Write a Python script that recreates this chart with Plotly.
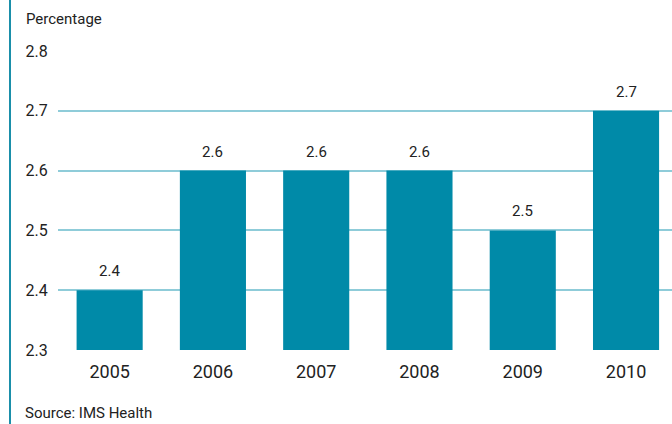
import plotly.graph_objects as go

years = ["2005", "2006", "2007", "2008", "2009", "2010"]
values = [2.4, 2.6, 2.6, 2.6, 2.5, 2.7]
labels = ["2.4", "2.6", "2.6", "2.6", "2.5", "2.7"]
yticks = [2.3, 2.4, 2.5, 2.6, 2.7, 2.8]

FONT = "Roboto, sans-serif"
BAR = "#008AA8"
GRID = "#8FCCD9"
TXT = "#222222"

fig = go.Figure(go.Bar(
    x=list(range(len(years))), y=values, width=0.64,
    marker=dict(color=BAR, line=dict(width=0)),
    hoverinfo="x+y",
))

annotations = [
    dict(x=i, y=v, xref="x", yref="y", text=t, showarrow=False,
         xanchor="center", yanchor="bottom", yshift=8,
         font=dict(family=FONT, size=15, color=TXT))
    for i, (v, t) in enumerate(zip(values, labels))
]
annotations += [
    dict(text="Percentage", xref="paper", yref="paper",
         x=(24 - 58) / 614, y=1 + (51 - 19) / 299, xanchor="left", yanchor="middle",
         showarrow=False, font=dict(family=FONT, size=15, color=TXT)),
    dict(text="Source: IMS Health", xref="paper", yref="paper",
         x=(23 - 58) / 614, y=-(413 - 350) / 299, xanchor="left", yanchor="middle",
         showarrow=False, font=dict(family=FONT, size=15, color=TXT)),
]

fig.update_layout(
    width=672, height=424,
    margin=dict(l=58, r=0, t=51, b=74),
    paper_bgcolor="white", plot_bgcolor="white",
    showlegend=False,
    font=dict(family=FONT, color=TXT),
    xaxis=dict(
        range=[-0.5, 5.445], tickmode="array",
        tickvals=list(range(len(years))), ticktext=years,
        showgrid=False, zeroline=False, showline=False,
        ticks="outside", ticklen=5, tickcolor="rgba(0,0,0,0)",
        tickfont=dict(family=FONT, size=18, color=TXT),
    ),
    yaxis=dict(
        range=[2.3, 2.8], tickmode="array", tickvals=yticks,
        ticktext=[f"{v:.1f}" for v in yticks],
        showgrid=True, gridcolor=GRID, gridwidth=2,
        zeroline=False, showline=False,
        ticks="outside", ticklen=6, tickcolor="rgba(0,0,0,0)",
        tickfont=dict(family=FONT, size=16, color=TXT),
    ),
    annotations=annotations,
    shapes=[dict(type="line", xref="paper", yref="paper",
                 x0=(10 - 58) / 614, x1=(10 - 58) / 614, y0=-0.3, y1=1.3,
                 line=dict(color="#1A8FAA", width=2))],
)

fig.write_html("out.html")
